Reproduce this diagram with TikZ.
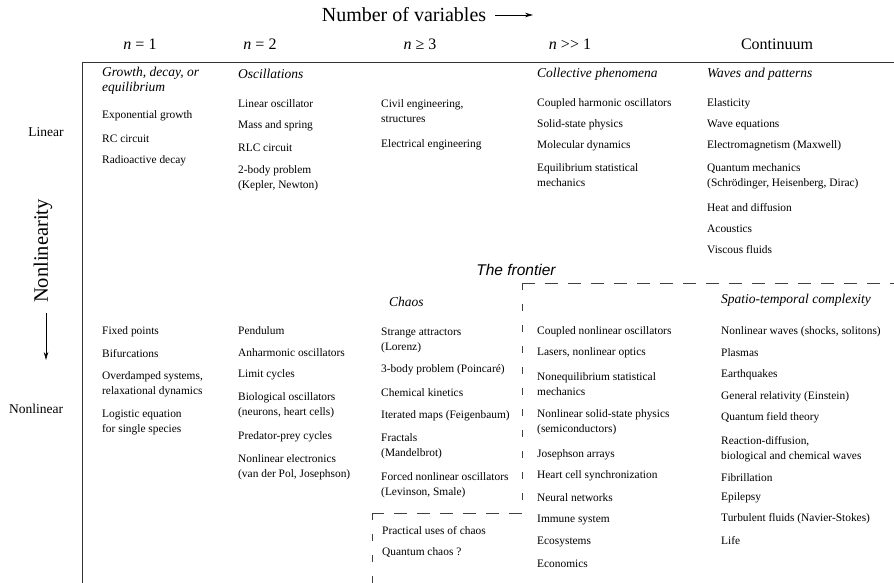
\documentclass[tikz,border=0pt]{standalone}
\usepackage{fontspec}
\setmainfont{Liberation Serif}
\newfontfamily\frontierfont{Liberation Sans}
\usepackage{tikz}
\usetikzlibrary{arrows.meta, positioning, calc}

\begin{document}
\begin{tikzpicture}[
    x=1pt, y=-1pt,
    item/.style={anchor=west, inner sep=0pt, align=left, font=\fontsize{11.4}{15}\selectfont},
    topic/.style={anchor=west, inner sep=0pt, align=left, font=\fontsize{13.5}{15}\selectfont\itshape},
    colhead/.style={inner sep=0pt, font=\fontsize{16}{18}\selectfont},
    rowhead/.style={inner sep=0pt, font=\fontsize{13.5}{15}\selectfont},
    frame/.style={line width=0.7pt, black!80},
    frontier/.style={line width=0.7pt, black!75},
    axis/.style={-{Stealth[length=8pt, width=4.5pt]}, line width=0.7pt}
]
\useasboundingbox (0,0) rectangle (894,583);

% Axis titles
\node[inner sep=0pt, font=\fontsize{20}{22}\selectfont] (vars) at (404,15) {Number of variables};
\coordinate (varstip) at (533,15);
\draw[axis] ([xshift=9pt]vars.east) -- (vars.east -| varstip);

\node[inner sep=0pt, rotate=90, font=\fontsize{20.5}{22}\selectfont] (nonlinearity) at (43,251) {Nonlinearity};
\coordinate (nltip) at (46,360);
\draw[axis] (46,313) -- (nltip);

% Column heads
\node[colhead] (n1) at (140,44) {\textit{n} = 1};
\node[colhead] (n2) at (260,44) {\textit{n} = 2};
\node[colhead] (n3) at (420,44) {\textit{n} ≥ 3};
\node[colhead] (nmany) at (570,44) {\textit{n} >{}> 1};
\node[colhead] (cont) at (777,44) {Continuum};

% Row heads
\node[rowhead] (linear) at (46,132) {Linear};
\node[rowhead] (nonlinear) at (36,409) {Nonlinear};

% Frame
\coordinate (corner) at (82,62);
\draw[frame] (corner) -- (894,62);
\draw[frame] (corner) -- (82,583);

% n = 1
\node[topic] (growth) at (102,81) {Growth, decay, or\\equilibrium};
\node[item] (expgrowth) at (102,116) {Exponential growth};
\node[item] (rc) at (102,139) {RC circuit};
\node[item] (radio) at (102,161) {Radioactive decay};
\node[item] (fixed) at (102,332) {Fixed points};
\node[item] (bif) at (102,354) {Bifurcations};
\node[item] (overdamped) at (102,384) {Overdamped systems,\\relaxational dynamics};
\node[item] (logistic) at (102,422) {Logistic equation\\for single species};

% n = 2
\node[topic] (osc) at (238,74) {Oscillations};
\node[item] (linosc) at (238,104) {Linear oscillator};
\node[item] (mass) at (238,126) {Mass and spring};
\node[item] (rlc) at (238,148) {RLC circuit};
\node[item] (twobody) at (238,178) {2-body problem\\(Kepler, Newton)};
\node[item] (pendulum) at (238,331) {Pendulum};
\node[item] (anharm) at (238,353) {Anharmonic oscillators};
\node[item] (limit) at (238,375) {Limit cycles};
\node[item] (bio) at (238,405) {Biological oscillators\\(neurons, heart cells)};
\node[item] (predator) at (238,437) {Predator-prey cycles};
\node[item] (electronics) at (238,467) {Nonlinear electronics\\(van der Pol, Josephson)};

% n >= 3
\node[item] (civil) at (381,111) {Civil engineering,\\structures};
\node[item] (electrical) at (381,145) {Electrical engineering};
\node[topic] (chaos) at (389,302) {Chaos};
\node[item] (strange) at (381,340) {Strange attractors\\(Lorenz)};
\node[item] (threebody) at (381,370) {3-body problem (Poincaré)};
\node[item] (chemical) at (381,393) {Chemical kinetics};
\node[item] (iterated) at (381,416) {Iterated maps (Feigenbaum)};
\node[item] (fractals) at (381,446) {Fractals\\(Mandelbrot)};
\node[item] (forced) at (381,485) {Forced nonlinear oscillators\\(Levinson, Smale)};
\node[item] (practical) at (382,531) {Practical uses of chaos};
\node[item] (quantumchaos) at (382,552) {Quantum chaos ?};

% n >> 1
\node[topic] (collective) at (537,74) {Collective phenomena};
\node[item] (coupledharm) at (537,104) {Coupled harmonic oscillators};
\node[item] (solid) at (537,125) {Solid-state physics};
\node[item] (molecular) at (537,146) {Molecular dynamics};
\node[item] (eqstat) at (537,175) {Equilibrium statistical\\mechanics};
\node[item] (couplednl) at (537,332) {Coupled nonlinear oscillators};
\node[item] (lasers) at (537,353) {Lasers, nonlinear optics};
\node[item] (noneq) at (537,384) {Nonequilibrium statistical\\mechanics};
\node[item] (nlsolid) at (537,422) {Nonlinear solid-state physics\\(semiconductors)};
\node[item] (josephson) at (537,455) {Josephson arrays};
\node[item] (heart) at (537,476) {Heart cell synchronization};
\node[item] (neural) at (537,498) {Neural networks};
\node[item] (immune) at (537,520) {Immune system};
\node[item] (eco) at (537,542) {Ecosystems};
\node[item] (econ) at (537,564) {Economics};

% Continuum
\node[topic] (waves) at (707,74) {Waves and patterns};
\node[item] (elastic) at (707,104) {Elasticity};
\node[item] (waveeq) at (707,125) {Wave equations};
\node[item] (em) at (707,146) {Electromagnetism (Maxwell)};
\node[item] (qm) at (707,176) {Quantum mechanics\\(Schrödinger, Heisenberg, Dirac)};
\node[item] (heat) at (707,208) {Heat and diffusion};
\node[item] (acoustics) at (707,229) {Acoustics};
\node[item] (viscous) at (707,250) {Viscous fluids};
\node[topic] (spatio) at (721,300) {Spatio-temporal complexity};
\node[item] (nlwaves) at (721,332) {Nonlinear waves (shocks, solitons)};
\node[item] (plasmas) at (721,353) {Plasmas};
\node[item] (quakes) at (721,375) {Earthquakes};
\node[item] (gr) at (721,397) {General relativity (Einstein)};
\node[item] (qft) at (721,418) {Quantum field theory};
\node[item] (reaction) at (721,449) {Reaction-diffusion,\\biological and chemical waves};
\node[item] (fib) at (721,478) {Fibrillation};
\node[item] (epilepsy) at (721,498) {Epilepsy};
\node[item] (turbulent) at (721,519) {Turbulent fluids (Navier-Stokes)};
\node[item] (life) at (721,541) {Life};

% The frontier
\node[inner sep=0pt, font=\fontsize{15.5}{17}\selectfont\frontierfont\itshape] (frontierlabel) at (516,270) {The frontier};
\coordinate (fa) at (522,283);
\coordinate (fb) at (522,513);
\coordinate (fc) at (372,513);
\draw[frontier, dash pattern=on 13pt off 10pt] (fa) -- (894,283);
\draw[frontier, dash pattern=on 7pt off 14pt] (fa) -- (fb);
\draw[frontier, dash pattern=on 13pt off 10pt] (fb) -- (fc);
\draw[frontier, dash pattern=on 7pt off 14pt] (fc) -- (372,583);

\end{tikzpicture}
\end{document}
